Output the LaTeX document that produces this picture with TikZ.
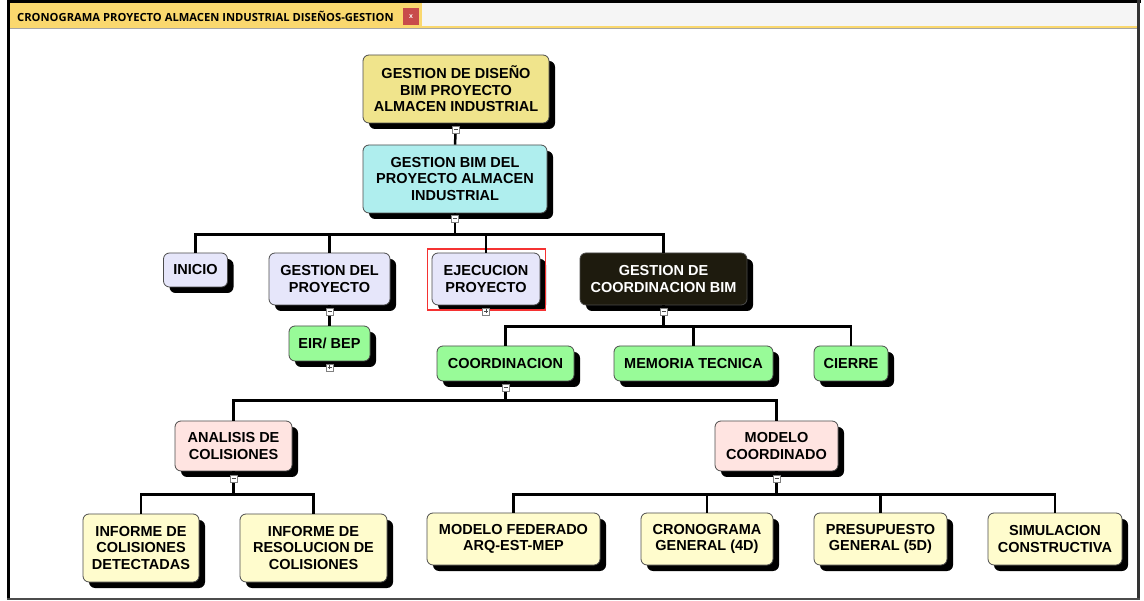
\documentclass[tikz,border=0pt]{standalone}
\usepackage{fontspec}
\setmainfont{Liberation Sans}
\newfontfamily\tabfont{Open Sans}
\usetikzlibrary{shadows,calc}

\definecolor{rootyellow}{RGB}{240,228,140}
\definecolor{bimcyan}{RGB}{175,238,238}
\definecolor{lav}{RGB}{230,230,250}
\definecolor{darkbox}{RGB}{30,27,14}
\definecolor{leafgreen}{RGB}{152,251,152}
\definecolor{rosy}{RGB}{255,228,225}
\definecolor{cream}{RGB}{255,252,205}
\definecolor{tabyellow}{RGB}{250,216,110}
\definecolor{closered}{RGB}{200,75,75}
\definecolor{selred}{RGB}{245,50,50}

\tikzset{
  box/.style={rounded corners=6pt, draw=black!70, line width=0.8pt,
    align=center, inner sep=0pt, text=black,
    font=\fontsize{14.5}{16.5}\selectfont\bfseries,
    drop shadow={shadow xshift=6pt, shadow yshift=-6pt, fill=black, opacity=1}},
  conn/.style={draw=black, line width=2.5pt},
  mk/.style={draw=gray, fill=white, line width=0.6pt, minimum size=7pt, inner sep=0pt},
  mkminus/.style={mk, path picture={\draw[black!70, line width=0.9pt]
      ([xshift=1.5pt]path picture bounding box.west) -- ([xshift=-1.5pt]path picture bounding box.east);}},
  mkplus/.style={mk, path picture={\draw[black!70, line width=0.9pt]
      ([xshift=1.5pt]path picture bounding box.west) -- ([xshift=-1.5pt]path picture bounding box.east)
      ([yshift=-1.5pt]path picture bounding box.north) -- ([yshift=1.5pt]path picture bounding box.south);}}
}

\begin{document}
\begin{tikzpicture}[x=1pt,y=-1pt]
\useasboundingbox (0,0) rectangle (1144,601);

% window frame and tab strip
\fill[gray!8] (9.5,3) rectangle (1137,27);
\fill[tabyellow] (10,3) rectangle (422,27.5);
\fill[tabyellow] (9.5,26.5) rectangle (1137,28);
\fill[gray!70] (9.5,28) rectangle (1137,29.5);
\fill[black] (7,0) rectangle (1141,3);
\fill[black] (7,0) rectangle (9.5,600);
\fill[black!80] (1137,0) rectangle (1140,600);
\fill[black!70] (7,597.5) rectangle (1140,599.5);
\node[anchor=west, inner sep=0pt, font=\tabfont\fontsize{11.2}{13}\selectfont\bfseries] (tabtitle) at (17,16)
  {CRONOGRAMA PROYECTO ALMACEN INDUSTRIAL DISEÑOS-GESTION};
\node[fill=closered, minimum width=16pt, minimum height=17pt, inner sep=0pt,
  text=white, font=\fontsize{7}{7}\selectfont\bfseries] (closebtn) at (411,16.5) {x};

% nodes
\node[box, fill=rootyellow, minimum width=186pt, minimum height=68pt] (top) at (456,89)
  {GESTION DE DISEÑO\\BIM PROYECTO\\ALMACEN INDUSTRIAL};
\node[box, fill=bimcyan, minimum width=184pt, minimum height=68pt] (bim) at (455,179)
  {GESTION BIM DEL\\PROYECTO ALMACEN\\INDUSTRIAL};

\node[box, fill=lav, minimum width=64pt, minimum height=34pt] (inicio) at (195.5,270) {INICIO};
\node[box, fill=lav, minimum width=121pt, minimum height=52pt] (gdp) at (329.5,279) {GESTION DEL\\PROYECTO};
\node[box, fill=lav, minimum width=108pt, minimum height=52pt] (ejec) at (486,279) {EJECUCION\\PROYECTO};
\node[box, fill=darkbox, text=white, minimum width=167pt, minimum height=52pt] (gcb) at (663.5,279)
  {GESTION DE\\COORDINACION BIM};

\node[box, fill=leafgreen, minimum width=81pt, minimum height=35pt] (eir) at (329.5,343.5) {EIR/ BEP};
\node[box, fill=leafgreen, minimum width=137pt, minimum height=35pt] (coord) at (505.5,363.5) {COORDINACION};
\node[box, fill=leafgreen, minimum width=159pt, minimum height=35pt] (mem) at (693.5,363.5) {MEMORIA TECNICA};
\node[box, fill=leafgreen, minimum width=74pt, minimum height=35pt] (cierre) at (851,363.5) {CIERRE};

\node[box, fill=rosy, minimum width=117pt, minimum height=50pt] (analisis) at (233.5,446) {ANALISIS DE\\COLISIONES};
\node[box, fill=rosy, minimum width=123pt, minimum height=50pt] (modelo) at (776.5,446) {MODELO\\COORDINADO};

\node[box, fill=cream, minimum width=116pt, minimum height=68pt] (inf1) at (141,548)
  {INFORME DE\\COLISIONES\\DETECTADAS};
\node[box, fill=cream, minimum width=147pt, minimum height=68pt] (inf2) at (313.5,548)
  {INFORME DE\\RESOLUCION DE\\COLISIONES};
\node[box, fill=cream, minimum width=173pt, minimum height=52pt] (fed) at (513.5,539)
  {MODELO FEDERADO\\ARQ-EST-MEP};
\node[box, fill=cream, minimum width=132pt, minimum height=52pt] (crono) at (707,539)
  {CRONOGRAMA\\GENERAL (4D)};
\node[box, fill=cream, minimum width=133pt, minimum height=52pt] (presu) at (880.5,539)
  {PRESUPUESTO\\GENERAL (5D)};
\node[box, fill=cream, minimum width=134pt, minimum height=52pt] (sim) at (1055,539)
  {SIMULACION\\CONSTRUCTIVA};

% selection frame around the selected topic
\coordinate (selA) at ([shift={(-4,-3.5)}]ejec.north west);
\coordinate (selB) at ([shift={(5,4.5)}]ejec.south east);
\draw[color=selred, line width=1.3pt] (selA) rectangle (selB);

% connectors
\draw[conn] (top.south) -- (bim.north);
\foreach \c in {inicio,gdp,ejec,gcb}
  \draw[conn] (bim.south) -- ++(0,21) -| (\c.north);
\draw[conn] (gdp.south) -- (eir.north);
\foreach \c in {coord,mem,cierre}
  \draw[conn] (gcb.south) -- ++(0,21) -| (\c.north);
\foreach \c in {analisis,modelo}
  \draw[conn] (coord.south) -- ++(0,19) -| (\c.north);
\foreach \c in {inf1,inf2}
  \draw[conn] (analisis.south) -- ++(0,23) -| (\c.north);
\foreach \c in {fed,crono,presu,sim}
  \draw[conn] (modelo.south) -- ++(0,23) -| (\c.north);

% collapse / expand markers
\node[mkminus] (mtop) at ($(top.south)+(0,6)$) {};
\node[mkminus] (mbim) at ($(bim.south)+(0,5)$) {};
\node[mkminus] (mgdp) at ($(gdp.south)+(0,6)$) {};
\node[mkplus] (mejec) at ($(ejec.south)+(0,6)$) {};
\node[mkminus] (mgcb) at ($(gcb.south)+(0,6)$) {};
\node[mkplus] (meir) at ($(eir.south)+(0,6)$) {};
\node[mkminus] (mcoord) at ($(coord.south)+(0,6)$) {};
\node[mkminus] (manal) at ($(analisis.south)+(0,7)$) {};
\node[mkminus] (mmod) at ($(modelo.south)+(0,7)$) {};
\end{tikzpicture}
\end{document}
